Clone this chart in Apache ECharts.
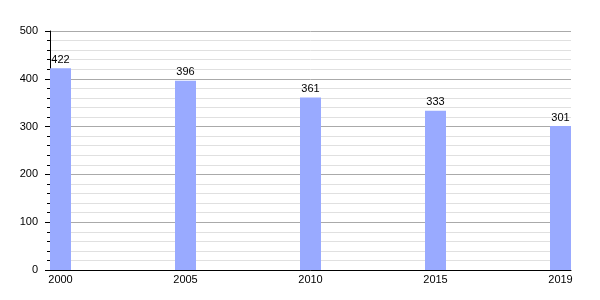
<!DOCTYPE html>
<html>
<head>
<meta charset="utf-8">
<script src="https://cdn.jsdelivr.net/npm/echarts@6/dist/echarts.min.js"></script>
<style>html,body{margin:0;padding:0;background:#fff}#c{width:600px;height:300px}</style>
</head>
<body>
<div id="c"></div>
<script>
const categories = ['2000', '2005', '2010', '2015', '2019'];
const values = [422, 396, 361, 333, 301];
const yTicks = [0, 100, 200, 300, 400, 500];

const chart = echarts.init(document.getElementById('c'), null, {renderer: 'canvas'});
const font = 'Liberation Sans, Arial, sans-serif';
chart.setOption({
  animation: false,
  backgroundColor: '#fff',
  grid: {left: 50, right: 29, top: 31, bottom: 30},
  xAxis: {
    type: 'value',
    min: -0.084,
    max: categories.length - 1 + 0.084,
    axisLine: {show: true, onZero: false, lineStyle: {color: '#000', width: 1}},
    axisTick: {show: false},
    splitLine: {show: false},
    axisLabel: {
      customValues: categories.map((c, i) => i),
      formatter: v => categories[Math.round(v)],
      color: '#000', fontSize: 11, fontFamily: font, margin: 4
    }
  },
  yAxis: {
    type: 'value',
    min: yTicks[0],
    max: yTicks[yTicks.length - 1],
    interval: 100,
    axisLine: {show: true, onZero: false, lineStyle: {color: '#000', width: 1}},
    axisTick: {show: true, length: 5, lineStyle: {color: '#000'}},
    minorTick: {show: true, splitNumber: 5, length: 3, lineStyle: {color: '#000'}},
    splitLine: {show: true, lineStyle: {color: '#aaaaaa', width: 1}},
    minorSplitLine: {show: true, lineStyle: {color: '#e0e0e0', width: 1}},
    axisLabel: {color: '#000', fontSize: 11, fontFamily: font, margin: 12}
  },
  series: [{
    type: 'bar',
    barWidth: 21,
    data: values.map((v, i) => [i, v]),
    itemStyle: {color: '#99aaff'},
    label: {show: true, position: 'top', distance: 3, color: '#000', fontSize: 11, fontFamily: font}
  }]
});
</script>
</body>
</html>
